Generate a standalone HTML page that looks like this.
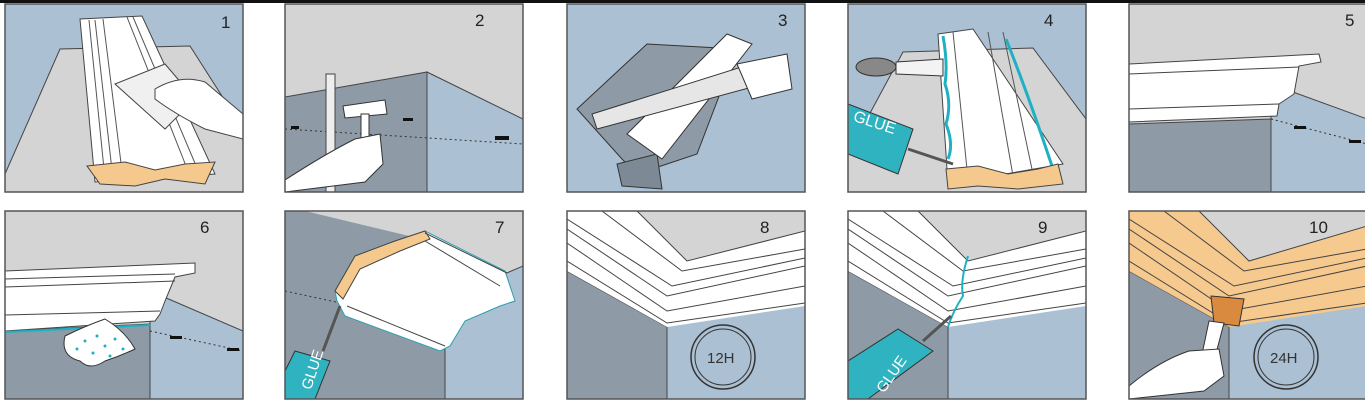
<!DOCTYPE html>
<html><head><meta charset="utf-8"><style>
html,body{margin:0;padding:0;background:#fff;}
svg{display:block;}
text{font-family:"Liberation Sans",sans-serif;}
</style></head><body>
<svg width="1365" height="400" viewBox="0 0 1365 400" xmlns="http://www.w3.org/2000/svg">
<rect x="0" y="0" width="1365" height="3" fill="#111"/>
<defs>
<clipPath id="c"><rect x="0" y="0" width="238" height="188"/></clipPath>
</defs>

<!-- Panel 1 -->
<g transform="translate(5,4)" clip-path="url(#c)">
<rect width="238" height="188" fill="#abc0d3"/>
<polygon points="0,188 0,170 55,45 185,42 238,125 238,188" fill="#d4d4d4" stroke="#444" stroke-width="1"/>
<polygon points="75,15 137,12 210,170 90,178" fill="#fff" stroke="#444" stroke-width="1"/>
<line x1="84" y1="16" x2="100" y2="175" stroke="#555"/>
<line x1="90" y1="16" x2="108" y2="175" stroke="#555"/>
<line x1="98" y1="15" x2="118" y2="175" stroke="#555"/>
<line x1="122" y1="13" x2="185" y2="172" stroke="#555"/>
<line x1="128" y1="13" x2="195" y2="171" stroke="#555"/>
<polygon points="82,162 120,158 150,166 180,160 210,158 200,180 160,175 130,182 95,180" fill="#f5c98e" stroke="#444"/>
<polygon points="110,80 160,60 190,95 160,125" fill="#f0f0f0" stroke="#444"/>
<path d="M150,85 Q175,70 200,78 L238,110 L238,135 L200,125 Q170,110 150,95 Z" fill="#fff" stroke="#444"/>
<text x="216" y="24" font-size="17" fill="#222">1</text>
</g>

<!-- Panel 2 -->
<g transform="translate(285,4)" clip-path="url(#c)">
<rect width="238" height="188" fill="#d4d4d4"/>
<polygon points="0,93 142,68 142,188 0,188" fill="#8e9ba7" stroke="#444"/>
<polygon points="142,68 238,115 238,188 142,188" fill="#abc0d3" stroke="#444"/>
<line x1="0" y1="125" x2="238" y2="140" stroke="#333" stroke-dasharray="2,3"/>
<rect x="6" y="122" width="8" height="3" fill="#111"/><rect x="118" y="114" width="10" height="3" fill="#111"/><rect x="210" y="132" width="14" height="4" fill="#111"/>
<rect x="41" y="70" width="9" height="118" fill="#eee" stroke="#444"/>
<polygon points="58,102 100,96 102,110 60,114" fill="#fff" stroke="#333"/>
<rect x="76" y="110" width="8" height="40" fill="#fff" stroke="#333"/>
<path d="M0,176 Q40,150 70,135 L95,130 L98,160 L80,178 L0,188 Z" fill="#fff" stroke="#333"/>
<text x="190" y="22" font-size="17" fill="#222">2</text>
</g>

<!-- Panel 3 -->
<g transform="translate(567,4)" clip-path="url(#c)">
<rect width="238" height="188" fill="#abc0d3"/>
<polygon points="10,105 80,40 170,45 130,150 70,170 55,155" fill="#8e9ba7" stroke="#333"/>
<polygon points="50,160 90,150 95,185 55,182" fill="#7d8a96" stroke="#333"/>
<polygon points="60,130 160,30 185,40 95,155" fill="#fff" stroke="#333"/>
<polygon points="25,110 200,55 215,75 30,125" fill="#e6e6e6" stroke="#333"/>
<polygon points="170,60 220,50 225,85 185,95" fill="#fff" stroke="#333"/>
<text x="211" y="22" font-size="17" fill="#222">3</text>
</g>

<!-- Panel 4 -->
<g transform="translate(848,4)" clip-path="url(#c)">
<rect width="238" height="188" fill="#abc0d3"/>
<polygon points="0,188 0,150 55,48 185,44 238,115 238,188" fill="#d4d4d4" stroke="#444"/>
<polygon points="90,30 125,25 215,160 100,180" fill="#fff" stroke="#444"/>
<line x1="105" y1="28" x2="120" y2="175" stroke="#555"/><line x1="140" y1="28" x2="165" y2="172" stroke="#555"/><line x1="155" y1="28" x2="185" y2="170" stroke="#555"/>
<path d="M95,32 Q100,60 97,80 Q104,100 98,120 Q106,140 100,155" stroke="#1fb0c2" stroke-width="3" fill="none"/>
<path d="M158,35 Q180,90 205,165" stroke="#1fb0c2" stroke-width="3" fill="none"/>
<polygon points="98,165 130,162 160,170 190,165 210,160 215,180 170,185 130,182 100,185" fill="#f5c98e" stroke="#444"/>
<ellipse cx="28" cy="63" rx="20" ry="9" fill="#888" stroke="#333"/>
<polygon points="48,58 95,55 95,72 48,70" fill="#f3f3f3" stroke="#333"/>
<polygon points="0,100 65,125 50,170 0,150" fill="#2fb3c0" stroke="#333"/>
<text x="3" y="125" font-size="16" fill="#fff" transform="rotate(18 30 125)">GLUE</text>
<line x1="60" y1="145" x2="105" y2="160" stroke="#555" stroke-width="3"/>
<text x="196" y="22" font-size="17" fill="#222">4</text>
</g>

<!-- Panel 5 -->
<g transform="translate(1129,4)" clip-path="url(#c)">
<rect width="238" height="188" fill="#d4d4d4"/>
<polygon points="0,120 142,115 142,188 0,188" fill="#8e9ba7" stroke="#444"/>
<polygon points="142,80 238,115 238,188 142,188" fill="#abc0d3" stroke="#444"/>
<polygon points="0,60 190,50 192,58 170,62 165,90 150,100 148,112 0,118" fill="#fff" stroke="#444"/>
<line x1="0" y1="70" x2="170" y2="63" stroke="#444"/><line x1="0" y1="105" x2="150" y2="100" stroke="#444"/>
<line x1="142" y1="115" x2="238" y2="140" stroke="#333" stroke-dasharray="2,3"/>
<rect x="165" y="122" width="12" height="3" fill="#111"/><rect x="220" y="136" width="12" height="3" fill="#111"/>
<text x="216" y="22" font-size="17" fill="#222">5</text>
</g>

<!-- Panel 6 -->
<g transform="translate(5,211)" clip-path="url(#c)">
<rect width="238" height="188" fill="#d4d4d4"/>
<polygon points="0,120 145,113 145,188 0,188" fill="#8e9ba7" stroke="#444"/>
<polygon points="145,80 238,120 238,188 145,188" fill="#abc0d3" stroke="#444"/>
<polygon points="0,60 190,52 190,62 170,66 160,90 155,103 150,110 0,120" fill="#fff" stroke="#444"/>
<line x1="0" y1="68" x2="170" y2="63" stroke="#444"/><line x1="0" y1="76" x2="170" y2="70" stroke="#444"/><line x1="0" y1="104" x2="155" y2="100" stroke="#444"/>
<line x1="0" y1="121" x2="145" y2="114" stroke="#1fb0c2" stroke-width="2"/>
<path d="M60,125 Q80,115 100,108 Q120,120 130,138 Q115,145 100,150 Q85,160 75,150 Q55,145 60,125 Z" fill="#fff" stroke="#333"/>
<g fill="#1fb0c2"><circle cx="80" cy="130" r="1.5"/><circle cx="92" cy="125" r="1.5"/><circle cx="100" cy="135" r="1.5"/><circle cx="110" cy="128" r="1.5"/><circle cx="88" cy="142" r="1.5"/><circle cx="105" cy="145" r="1.5"/><circle cx="118" cy="138" r="1.5"/><circle cx="72" cy="138" r="1.5"/></g>
<line x1="145" y1="120" x2="238" y2="140" stroke="#333" stroke-dasharray="2,3"/>
<rect x="165" y="125" width="12" height="3" fill="#111"/><rect x="222" y="137" width="12" height="3" fill="#111"/>
<text x="195" y="22" font-size="17" fill="#222">6</text>
</g>

<!-- Panel 7 -->
<g transform="translate(285,211)" clip-path="url(#c)">
<rect width="238" height="188" fill="#8e9ba7"/>
<polygon points="20,0 238,0 238,55 145,95 145,30" fill="#d4d4d4"/>
<polygon points="145,95 238,55 238,188 160,188 160,120" fill="#abc0d3" stroke="#444"/>
<line x1="0" y1="80" x2="60" y2="93" stroke="#333" stroke-dasharray="2,3"/>
<polygon points="50,80 70,45 110,30 140,20 220,60 230,90 215,95 180,110 165,135 155,140 60,105 52,90" fill="#fff" stroke="#2a9fb0"/>
<polygon points="50,80 70,45 110,30 140,20 145,28 115,40 75,58 58,88" fill="#f5c98e" stroke="#444"/>
<line x1="140" y1="22" x2="222" y2="62" stroke="#444"/><line x1="62" y1="95" x2="160" y2="135" stroke="#444"/><line x1="140" y1="30" x2="215" y2="75" stroke="#444"/>
<polygon points="10,140 45,150 30,188 0,188 0,160" fill="#2fb3c0" stroke="#333"/>
<text x="16" y="178" font-size="15" fill="#fff" transform="rotate(-72 22 172)">GLUE</text>
<line x1="38" y1="140" x2="55" y2="95" stroke="#555" stroke-width="3"/>
<text x="210" y="22" font-size="17" fill="#222">7</text>
</g>

<!-- Panel 8 -->
<g transform="translate(567,211)" clip-path="url(#c)">
<rect width="238" height="188" fill="#abc0d3"/>
<polygon points="0,60 100,116 100,188 0,188" fill="#8e9ba7" stroke="#444"/>
<polygon points="70,0 238,0 238,20 120,50" fill="#d4d4d4"/>
<polygon points="0,0 70,0 120,50 238,20 238,95 100,116 0,60" fill="#fff"/>
<g stroke="#444" fill="none"><polyline points="0,8 105,75 238,47"/><polyline points="0,18 100,85 238,55"/><polyline points="35,0 115,60 238,38"/><polyline points="0,32 100,100 238,75"/><polyline points="0,50 100,112 238,92"/><polyline points="70,0 120,50 238,20"/></g>
<line x1="100" y1="116" x2="100" y2="188" stroke="#444"/>
<circle cx="156" cy="146" r="32" fill="none" stroke="#333" stroke-width="1.5"/><circle cx="156" cy="146" r="28" fill="none" stroke="#333"/>
<text x="140" y="152" font-size="15" fill="#333">12H</text>
<text x="193" y="22" font-size="17" fill="#222">8</text>
</g>

<!-- Panel 9 -->
<g transform="translate(848,211)" clip-path="url(#c)">
<rect width="238" height="188" fill="#abc0d3"/>
<polygon points="0,60 100,116 100,188 0,188" fill="#8e9ba7" stroke="#444"/>
<polygon points="70,0 238,0 238,20 120,50" fill="#d4d4d4"/>
<polygon points="0,0 70,0 120,50 238,20 238,95 100,116 0,60" fill="#fff"/>
<g stroke="#444" fill="none"><polyline points="0,8 105,75 238,47"/><polyline points="0,18 100,85 238,55"/><polyline points="35,0 115,60 238,38"/><polyline points="0,32 100,100 238,75"/><polyline points="0,50 100,112 238,92"/><polyline points="70,0 120,50 238,20"/></g>
<path d="M120,45 Q112,70 115,85 Q105,100 100,116" stroke="#1fb0c2" stroke-width="2" fill="none"/>
<line x1="100" y1="116" x2="100" y2="188" stroke="#444"/>
<polygon points="0,150 50,118 85,140 20,188 0,188" fill="#2fb3c0" stroke="#333"/>
<text x="25" y="178" font-size="15" fill="#fff" transform="rotate(-55 35 170)">GLUE</text>
<line x1="75" y1="130" x2="103" y2="105" stroke="#555" stroke-width="3"/>
<text x="190" y="22" font-size="17" fill="#222">9</text>
</g>

<!-- Panel 10 -->
<g transform="translate(1129,211)" clip-path="url(#c)">
<rect width="238" height="188" fill="#abc0d3"/>
<polygon points="0,60 100,116 100,188 0,188" fill="#8e9ba7" stroke="#444"/>
<polygon points="70,0 238,0 238,20 120,50" fill="#d4d4d4"/>
<polygon points="0,0 70,0 120,50 238,15 238,95 100,116 0,60" fill="#f6c98e"/>
<g stroke="#444" fill="none"><polyline points="0,8 105,75 238,47"/><polyline points="0,18 100,85 238,55"/><polyline points="35,0 115,60 238,38"/><polyline points="0,32 100,100 238,75"/><polyline points="0,50 100,112 238,92"/><polyline points="70,0 120,50 238,15"/></g>
<line x1="100" y1="116" x2="100" y2="188" stroke="#444"/>
<polygon points="82,85 115,88 110,115 85,112" fill="#d98a3e" stroke="#333"/>
<polygon points="80,110 95,112 85,150 72,148" fill="#fff" stroke="#333"/>
<path d="M0,175 Q30,150 60,140 L90,138 L95,165 L75,180 L0,188 Z" fill="#fff" stroke="#333"/>
<circle cx="157" cy="146" r="32" fill="none" stroke="#333" stroke-width="1.5"/><circle cx="157" cy="146" r="28" fill="none" stroke="#333"/>
<text x="141" y="152" font-size="15" fill="#333">24H</text>
<text x="180" y="22" font-size="17" fill="#222">10</text>
</g>

<g fill="none" stroke="#555" stroke-width="1.5">
<rect x="5" y="4" width="238" height="188"/><rect x="285" y="4" width="238" height="188"/><rect x="567" y="4" width="238" height="188"/><rect x="848" y="4" width="238" height="188"/><rect x="1129" y="4" width="238" height="188"/>
<rect x="5" y="211" width="238" height="188"/><rect x="285" y="211" width="238" height="188"/><rect x="567" y="211" width="238" height="188"/><rect x="848" y="211" width="238" height="188"/><rect x="1129" y="211" width="238" height="188"/>
</g>
</svg>
</body></html>
